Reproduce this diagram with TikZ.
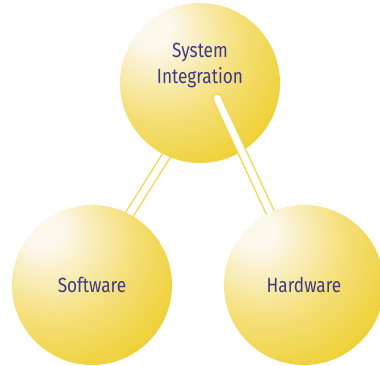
\documentclass[tikz,border=0pt]{standalone}
\usepackage{fontspec}
\setmainfont[FakeStretch=0.84]{Fira Sans}
\usetikzlibrary{backgrounds}
\definecolor{balldark}{HTML}{EDCE2A}
\definecolor{ballmid}{HTML}{F5E07C}
\definecolor{balllight}{HTML}{FCF8EC}
\definecolor{linkyellow}{HTML}{F0D84A}
\definecolor{labelblue}{HTML}{3D3A85}
\pgfdeclareradialshading{ballshade}{\pgfpoint{-16bp}{18bp}}{color(0bp)=(balllight); color(6bp)=(balllight); color(24bp)=(ballmid); color(42bp)=(balldark); color(100bp)=(balldark)}
\pgfdeclarelayer{front}
\pgfsetlayers{background,main,front}

\begin{document}
\begin{tikzpicture}[x=1bp,y=-1bp,
			ball/.style={circle,minimum size=160bp,inner sep=0pt,shading=ballshade},
			link/.style={draw=linkyellow,line width=1.4bp,double=white,double distance=7bp},
			ball text/.style={text=labelblue,font=\fontsize{20.5bp}{26bp}\selectfont,align=center}]
			\useasboundingbox (0,0) rectangle (380,366);
			\node[ball] (sysint) at (200,83) {};
			\begin{pgfonlayer}{front}
			\node[ball, ball text] (software) at (92,285) {Software};
			\node[ball, ball text] (hardware) at (304,285) {Hardware};
			\end{pgfonlayer}
			\node[ball text] (sysintlabel) at ([yshift=18bp]sysint.center) {System\\Integration};
			\draw[link, line cap=round] ([shift={(17,15)}]sysint.center) -- (hardware.center);
			\begin{scope}[on background layer]
			\draw[link] ([xshift=12bp]sysint.center) -- ([xshift=-7bp]software.center);
			\end{scope}
		\end{tikzpicture}
\end{document}
